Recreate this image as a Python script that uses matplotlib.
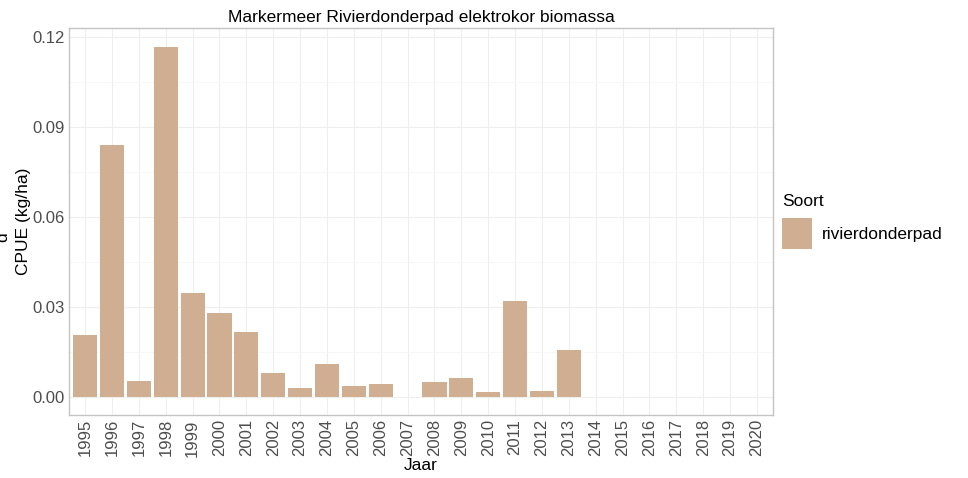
import matplotlib.pyplot as plt
import numpy as np

plt.rcParams['font.family'] = ['Liberation Sans', 'DejaVu Sans']

# data (missing years are left empty)
years = [str(y) for y in range(1995, 2021)]
cpue = [0.0207, 0.0840, 0.0055, 0.1167, 0.0347, 0.0280, 0.0217, 0.0080,
        0.0030, 0.0110, 0.0037, 0.0044, np.nan, 0.0052, 0.0063, 0.0017,
        0.0320, 0.0023, 0.0157, np.nan, np.nan, np.nan, np.nan, np.nan,
        np.nan, np.nan]
soort = 'rivierdonderpad'
y_ticks = [0.00, 0.03, 0.06, 0.09, 0.12]

bar_color = '#D0AE91'

fig = plt.figure(figsize=(9.68, 4.78), dpi=100)
ax = fig.add_axes([0.0713, 0.1318, 0.7273, 0.8096])

x = np.arange(len(years))
ax.bar(x, np.nan_to_num(cpue), width=0.9, color=bar_color, label=soort,
       zorder=3)

ax.set_xlim(-0.6, len(years) - 0.4)
ax.set_ylim(-0.00585, 0.1229)

ax.set_xticks(x)
ax.set_xticklabels(years, rotation=90, fontsize=12, color='#4D4D4D')
ax.set_yticks(y_ticks)
ax.set_yticklabels(['%.2f' % v for v in y_ticks], fontsize=12,
                   color='#4D4D4D')
ax.set_yticks([0.015, 0.045, 0.075, 0.105], minor=True)
ax.tick_params(axis='both', which='both', length=0, pad=3)

ax.grid(True, which='major', color='#EEEEEE', linewidth=0.8, zorder=0)
ax.grid(True, which='minor', axis='y', color='#F6F6F6', linewidth=0.6,
        zorder=0)
for s in ax.spines.values():
    s.set_color('#C4C4C4')
    s.set_linewidth(1.0)

ax.set_title('Markermeer Rivierdonderpad elektrokor biomassa', fontsize=12.5,
             pad=4)
ax.set_xlabel('Jaar', fontsize=12.5, labelpad=1)
ax.set_ylabel('CPUE (kg/ha)', fontsize=12.5, labelpad=1)
fig.text(3 / 968, 1 - 237 / 478, 'd', rotation=90, fontsize=12.5,
         ha='center', va='center')

leg = ax.legend(title='Soort', loc='center left', bbox_to_anchor=(1.0, 0.5),
                frameon=False, fontsize=12.5, title_fontsize=12.5,
                handlelength=1.75, handleheight=2.4, handletextpad=0.55,
                borderaxespad=0.1)
leg._legend_box.align = 'left'

fig.savefig('out.png', dpi=100)
